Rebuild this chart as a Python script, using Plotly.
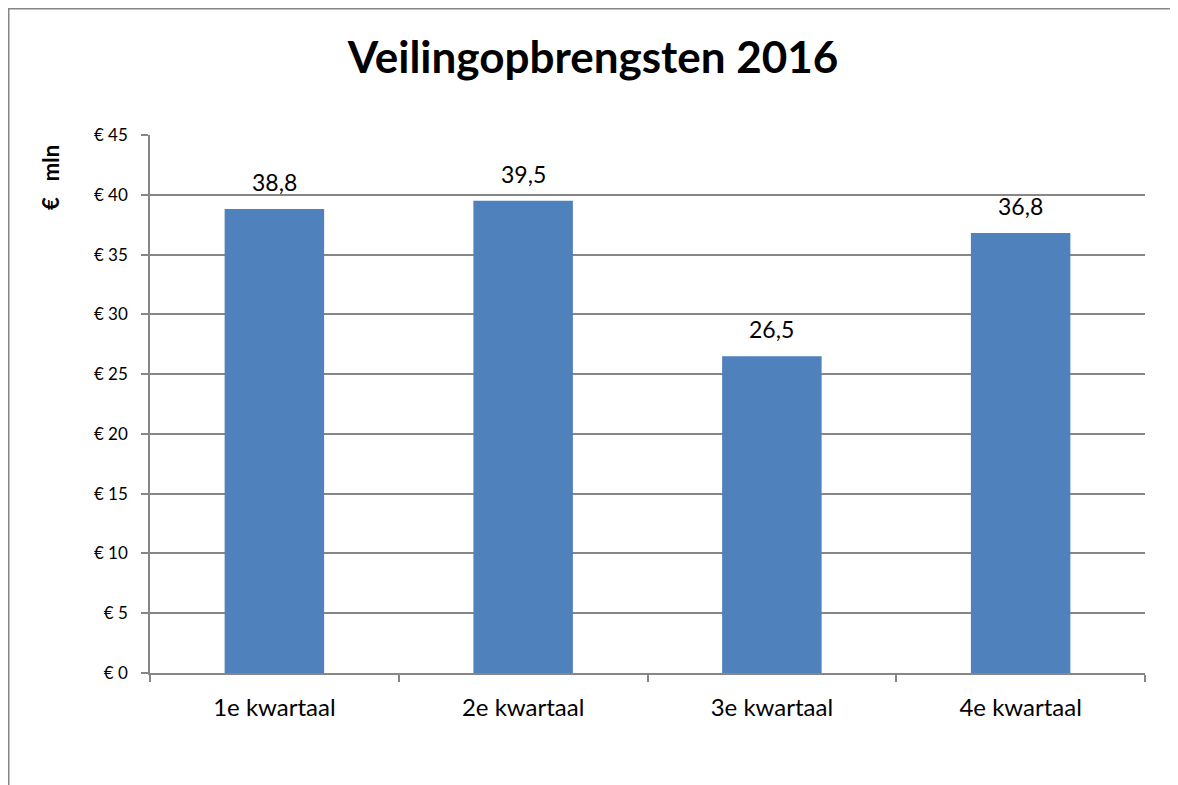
import plotly.graph_objects as go

categories = ["1e kwartaal", "2e kwartaal", "3e kwartaal", "4e kwartaal"]
values = [38.8, 39.5, 26.5, 36.8]
value_labels = ["38,8", "39,5", "26,5", "36,8"]
tick_vals = [0, 5, 10, 15, 20, 25, 30, 35, 40, 45]
tick_text = ["€ " + str(v) for v in tick_vals]

# page has an 8px body margin, so the figure is drawn 8px right/down
W, H = 1170, 777
L, R, T, B = 142, 33, 127, 112
pw, ph = W - L - R, H - T - B

def px_x(p):
    return (p - L) / pw

def px_y(p):
    return (H - B - p) / ph

font = "Lato, 'Open Sans', sans-serif"

fig = go.Figure(go.Bar(
    x=categories, y=values,
    marker=dict(color="#4F81BD", line=dict(width=0)),
    hoverinfo="x+y",
))

annotations = [dict(
    x=c, y=v, xref="x", yref="y", text=t, showarrow=False,
    yanchor="middle", yshift=27,
    font=dict(size=23, family=font, color="#000000"),
) for c, v, t in zip(categories, values, value_labels)]

annotations.append(dict(
    text="<b>€   mln</b>", textangle=-90, xref="paper", yref="paper",
    x=px_x(50 - 8), y=px_y(178 - 8), xanchor="center", yanchor="middle",
    showarrow=False, font=dict(size=22, family=font, color="#000000"),
))

fig.update_layout(
    width=W, height=H,
    margin=dict(l=L, r=R, t=T, b=B),
    paper_bgcolor="white", plot_bgcolor="white",
    separators=",.",
    bargap=0.6,
    showlegend=False,
    font=dict(family=font, color="#000000"),
    title=dict(text="<b>Veilingopbrengsten 2016</b>", x=0.5, xanchor="center",
               y=1 - 50 / H, yanchor="middle",
               font=dict(size=44, family=font, color="#000000")),
    xaxis=dict(
        showline=True, linecolor="#868686", linewidth=1.5,
        ticks="outside", tickson="boundaries", ticklen=7, tickcolor="#868686", tickwidth=1.5,
        tickfont=dict(size=24, family=font, color="#000000"),
        ticklabelstandoff=12,
        showgrid=False,
    ),
    yaxis=dict(
        range=[0, 45], tickvals=tick_vals, ticktext=tick_text,
        showline=True, linecolor="#868686", linewidth=1.5,
        ticks="outside", ticklen=7, tickcolor="#868686", tickwidth=1.5,
        showgrid=True, gridcolor="#868686", gridwidth=1.5,
        tickfont=dict(size=17, family=font, color="#000000"),
        ticklabelstandoff=10,
        zeroline=False, fixedrange=True,
    ),
    annotations=annotations,
    shapes=[dict(
        type="rect", xref="paper", yref="paper",
        x0=px_x(0.75), x1=px_x(1400), y0=px_y(1000), y1=px_y(0.75),
        line=dict(color="#868686", width=1.5), fillcolor="rgba(0,0,0,0)", layer="below",
    )],
)

fig.write_html("out.html")
